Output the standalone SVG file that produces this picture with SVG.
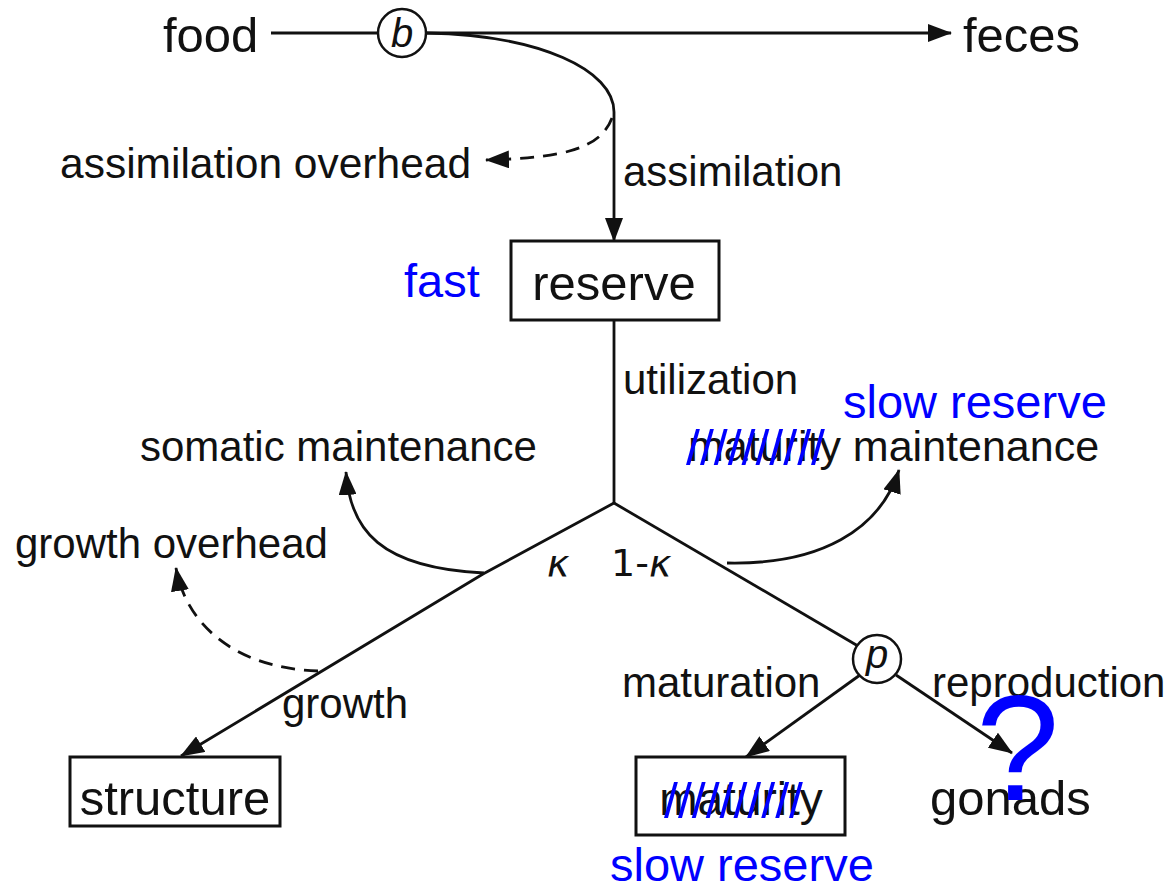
<svg xmlns="http://www.w3.org/2000/svg" width="1174" height="892" viewBox="0 0 1174 892">
<style>
.t{font-family:"Liberation Sans",Arial,sans-serif;fill:#111}
.big{font-size:49px}
.med{font-size:42px}
.blue{font-family:"Liberation Sans",Arial,sans-serif;fill:#0000ff;font-size:47px}
.sl{font-family:"Liberation Sans",Arial,sans-serif;fill:#0000ff;font-size:50px}
.ln{fill:none;stroke:#111;stroke-width:2.8}
.dash{fill:none;stroke:#111;stroke-width:2.8;stroke-dasharray:14 9}
.box{fill:#fff;stroke:#111;stroke-width:3}
.circ{fill:#fff;stroke:#111;stroke-width:2.5}
</style>
<defs>
<marker id="ah" markerUnits="userSpaceOnUse" markerWidth="24" markerHeight="18" refX="23" refY="9" orient="auto">
<path d="M0,0 L24,9 L0,18 z" fill="#111" stroke="none"/>
</marker>
</defs>
<rect width="1174" height="892" fill="#fff"/>
<g id="connectors">
<line class="ln" x1="271" y1="33" x2="378" y2="33"/>
<line class="ln" x1="426" y1="33" x2="951" y2="33" marker-end="url(#ah)"/>
<path class="ln" d="M426,33 C540,35 614,70 614,112 L614,241" marker-end="url(#ah)"/>
<path class="dash" d="M612,118 C600,150 560,158 486,160" marker-end="url(#ah)"/>
<line class="ln" x1="614" y1="320" x2="614" y2="503"/>
<polyline class="ln" points="614,503 483,574 181,756" marker-end="url(#ah)"/>
<line class="ln" x1="614" y1="503" x2="858" y2="646"/>
<path class="ln" d="M484,573 C380,568 350,530 346,472" marker-end="url(#ah)"/>
<path class="ln" d="M727,563 C820,565 880,530 899,470" marker-end="url(#ah)"/>
<path class="dash" d="M318,671 C230,668 185,620 176,568" marker-end="url(#ah)"/>
<line class="ln" x1="860" y1="675" x2="746" y2="757" marker-end="url(#ah)"/>
<line class="ln" x1="896" y1="675" x2="1012" y2="753" marker-end="url(#ah)"/>
</g>
<g id="food"><text class="t big" x="163" y="52">food</text></g>
<g id="b"><circle class="circ" cx="402" cy="33" r="24"/><text class="t" x="402" y="47" font-size="40" font-style="italic" text-anchor="middle">b</text></g>
<g id="feces"><text class="t big" x="963" y="52">feces</text></g>
<g id="assimilation-overhead"><text class="t" style="font-size:42.5px" x="60" y="178">assimilation overhead</text></g>
<g id="assimilation"><text class="t med" x="623" y="186">assimilation</text></g>
<g id="reserve"><rect class="box" x="511" y="241" width="208" height="79"/><text class="t big" x="614" y="300" text-anchor="middle">reserve</text></g>
<g id="fast"><text class="blue" x="404" y="297">fast</text></g>
<g id="utilization"><text class="t med" x="623" y="394">utilization</text></g>
<g id="slow-reserve-top"><text class="blue" x="843" y="418">slow reserve</text></g>
<g id="somatic-maintenance"><text class="t med" x="140" y="461">somatic maintenance</text></g>
<g id="maturity-maintenance"><text class="t" style="font-size:43px" x="688" y="461">maturity maintenance</text><text class="sl" x="686" y="465">//////////</text></g>
<g id="kappa"><text class="t" font-size="38" x="547" y="576" font-style="italic" style="font-family:'DejaVu Sans',sans-serif">κ</text><text class="t" font-size="38" x="611" y="576" style="font-family:'DejaVu Sans',sans-serif">1-<tspan font-style="italic">κ</tspan></text></g>
<g id="growth-overhead"><text class="t med" x="15" y="558">growth overhead</text></g>
<g id="growth"><text class="t med" x="282" y="718">growth</text></g>
<g id="structure"><rect class="box" x="70" y="757" width="210" height="69"/><text class="t big" x="175" y="815" text-anchor="middle">structure</text></g>
<g id="maturation"><text class="t med" x="622" y="697">maturation</text></g>
<g id="p"><circle class="circ" cx="877" cy="659" r="24"/><text class="t" x="877" y="668" font-size="40" font-style="italic" text-anchor="middle">p</text></g>
<g id="reproduction"><text class="t med" x="932" y="697">reproduction</text></g>
<g id="maturity"><rect class="box" x="636" y="757" width="209" height="78"/><text class="t" style="font-size:46px" x="741" y="815" text-anchor="middle">maturity</text><text class="sl" x="664" y="818">//////////</text></g>
<g id="slow-reserve-bottom"><text class="blue" x="610" y="881">slow reserve</text></g>
<g id="gonads"><text class="t big" x="930" y="815">gonads</text></g>
<g id="question"><text class="blue" style="font-size:150px" x="976" y="800">?</text></g>
</svg>
